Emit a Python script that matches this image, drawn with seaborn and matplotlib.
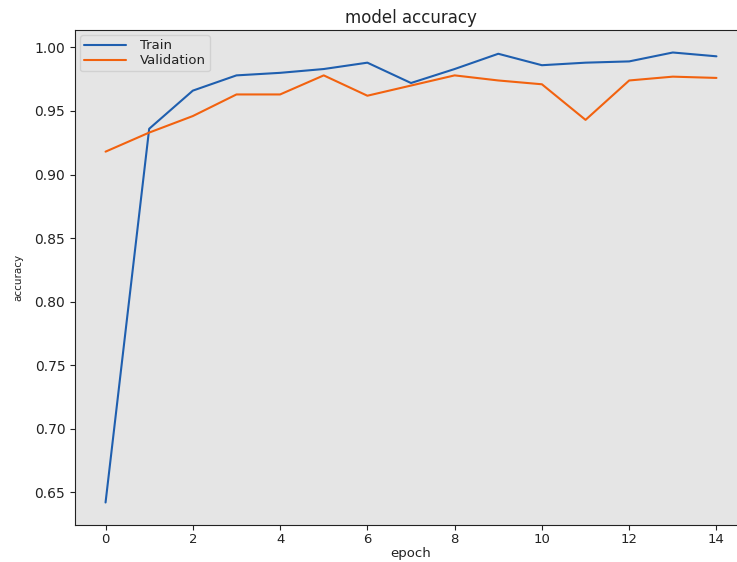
import matplotlib
matplotlib.use('Agg')
import matplotlib.pyplot as plt
import pandas as pd
import seaborn as sns

epochs = list(range(15))
train_acc = [0.642, 0.936, 0.966, 0.978, 0.980, 0.983, 0.988, 0.972, 0.983,
             0.995, 0.986, 0.988, 0.989, 0.996, 0.993]
val_acc = [0.918, 0.933, 0.946, 0.963, 0.963, 0.978, 0.962, 0.970, 0.978,
           0.974, 0.971, 0.943, 0.974, 0.977, 0.976]
series_names = ['Train', 'Validation']

df = pd.DataFrame({
    'epoch': epochs * 2,
    'accuracy': train_acc + val_acc,
    'series': [series_names[0]] * 15 + [series_names[1]] * 15,
})

sns.set_style('ticks', rc={
    'axes.facecolor': '#e5e5e5',
    'axes.edgecolor': '#222222',
    'axes.grid': False,
    'text.color': '#222222',
    'axes.labelcolor': '#222222',
    'xtick.color': '#222222',
    'ytick.color': '#222222',
})
plt.rcParams['font.family'] = ['DejaVu Sans']

fig = plt.figure(figsize=(7.37, 5.62), dpi=100)
# right edge of the axes runs past the figure edge, as in the cropped original
ax = fig.add_axes([75 / 737, 37 / 562, 672 / 737, 495 / 562])
sns.lineplot(data=df, x='epoch', y='accuracy', hue='series',
             palette=['#1f5faf', '#f2620f'], linewidth=1.5, ax=ax)
ax.set_title('model accuracy', fontsize=12, pad=5)
ax.set_xlabel('epoch', fontsize=9.5, labelpad=1)
ax.set_ylabel('accuracy', fontsize=7.5, labelpad=8)
ax.tick_params(axis='y', labelsize=10)
ax.tick_params(axis='x', labelsize=9.5, pad=2)
ax.set_xticks(range(0, 15, 2))
ax.legend(loc='upper left', fontsize=9.5, labelspacing=0.15,
          handlelength=3.2, handletextpad=1.0, borderpad=0.3, borderaxespad=0.4)
for side in ['top', 'right', 'left', 'bottom']:
    ax.spines[side].set_visible(True)

fig.savefig('out.png', dpi=100)
